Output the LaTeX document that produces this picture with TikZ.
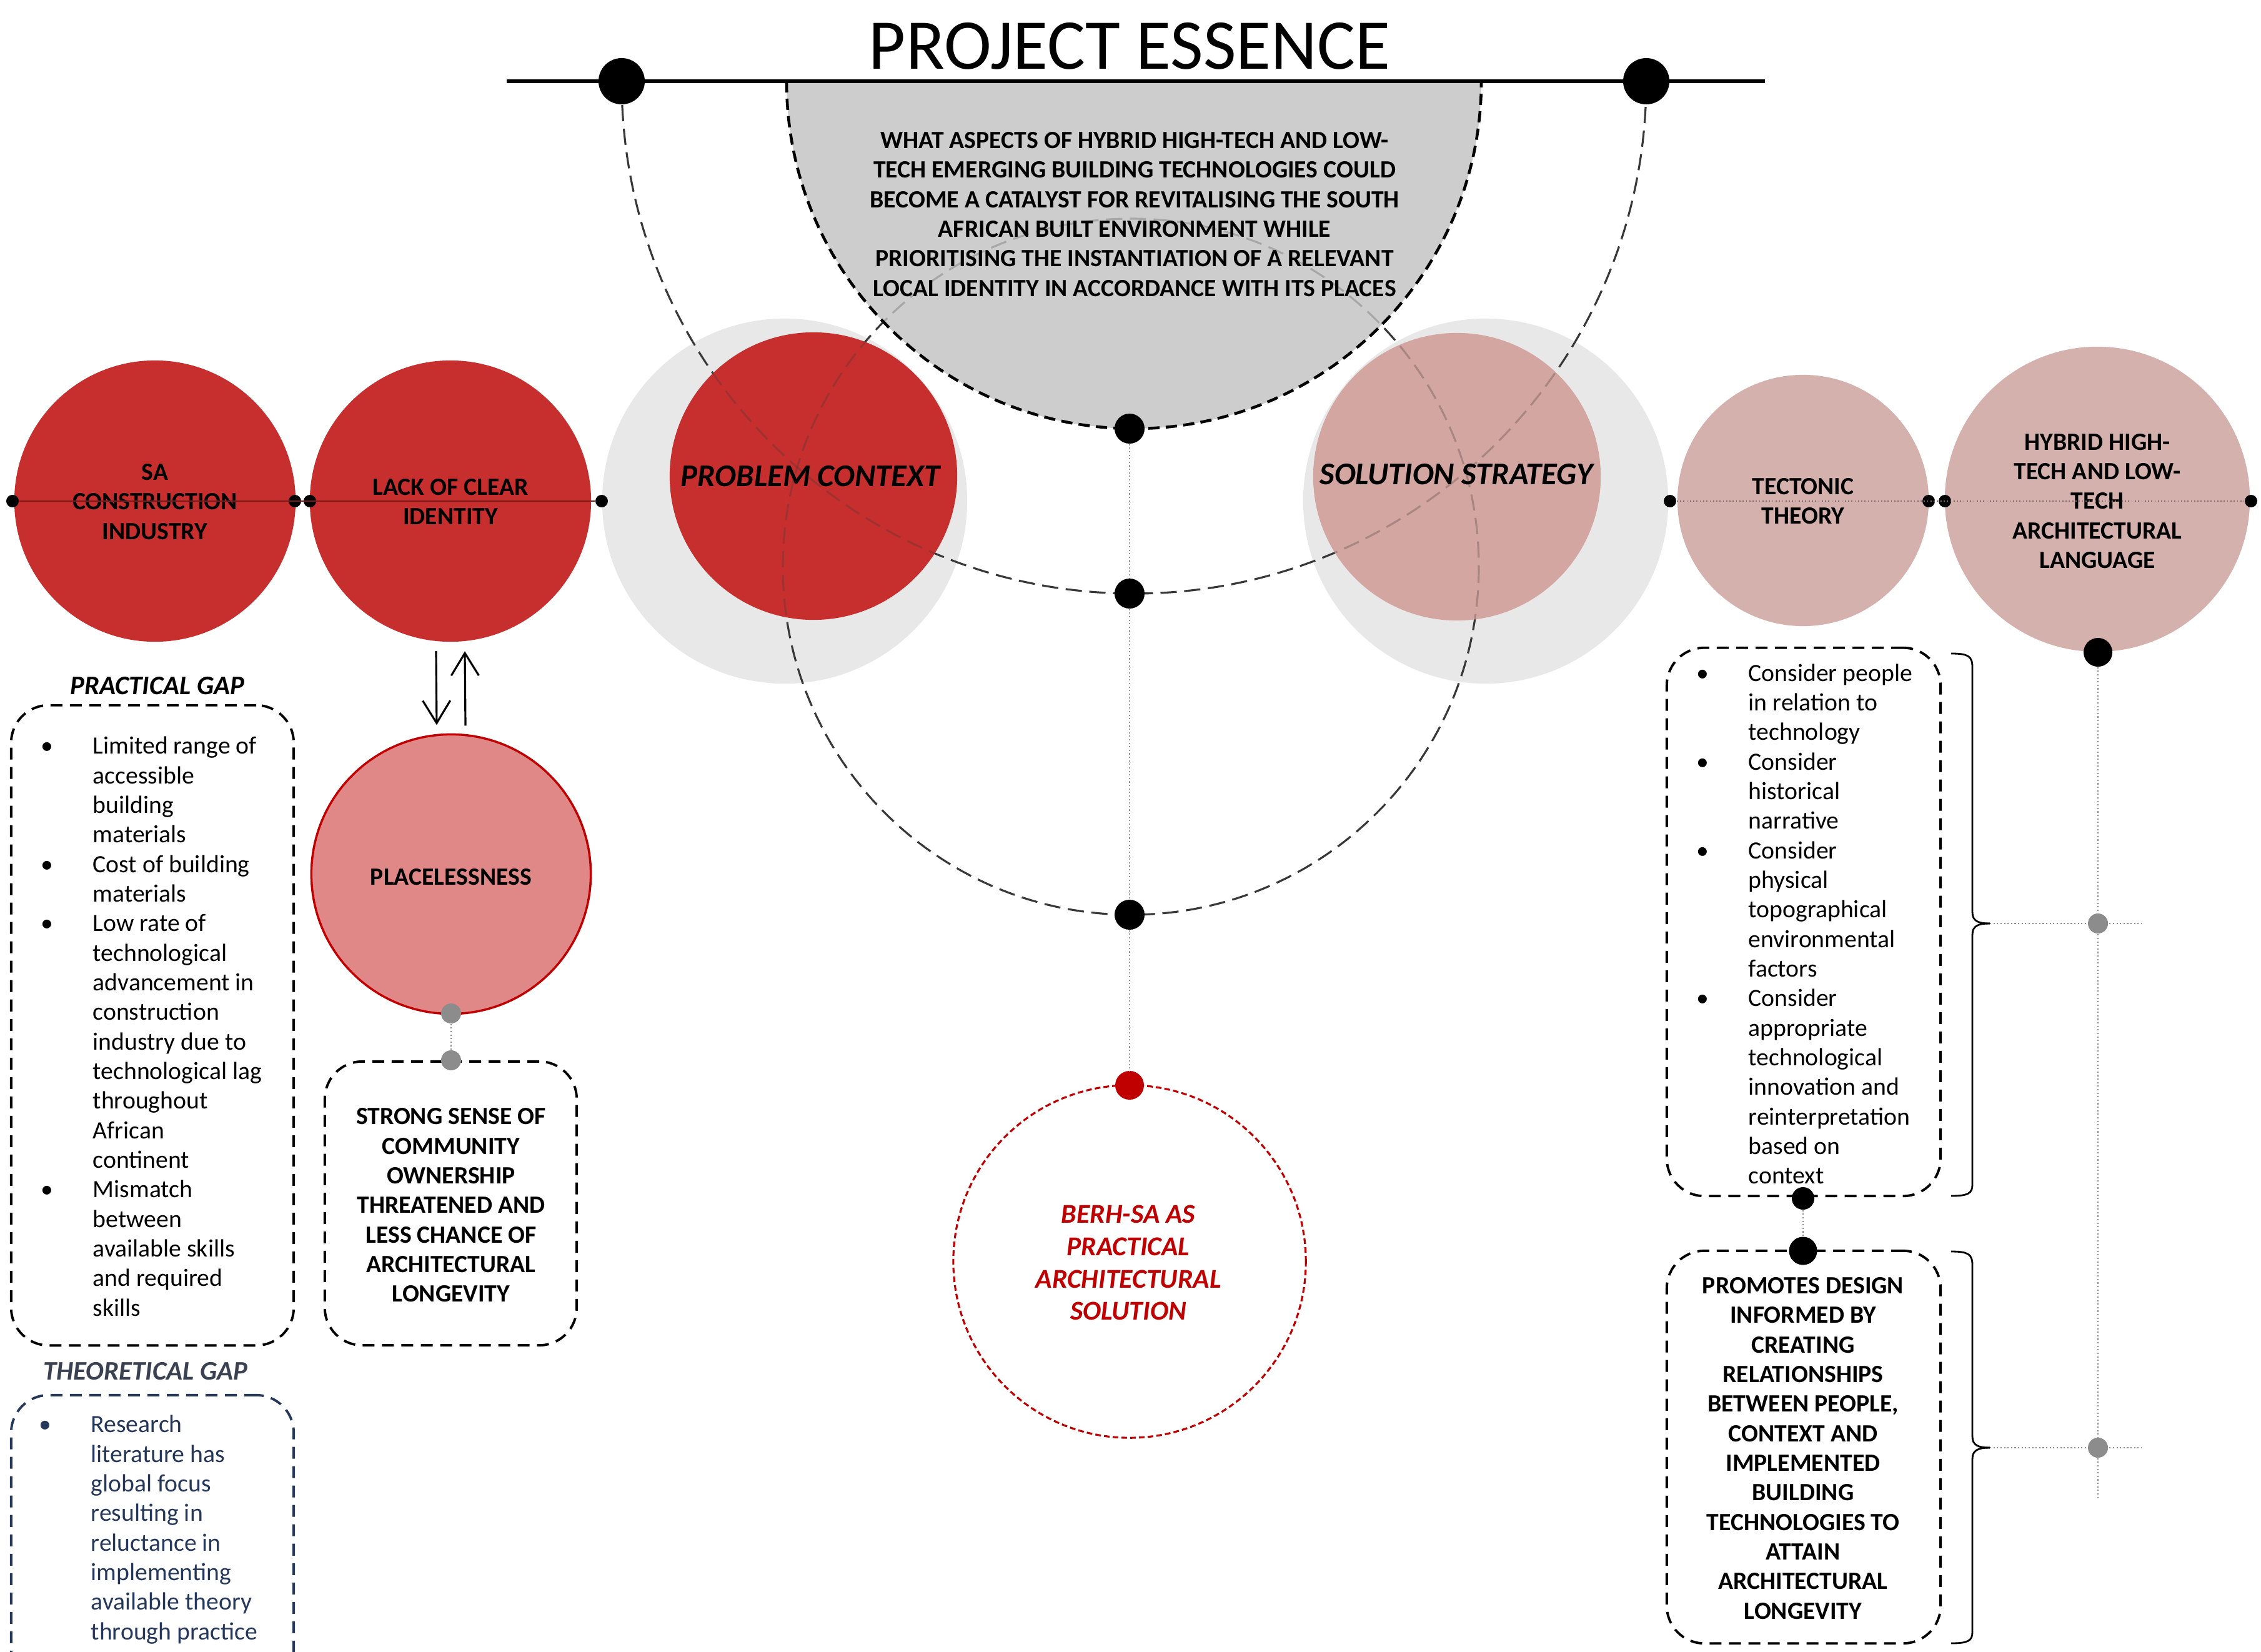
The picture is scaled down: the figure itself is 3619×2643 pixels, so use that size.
\documentclass[tikz,border=0pt]{standalone}
\usepackage{fontspec}
\setmainfont{Carlito}
\usetikzlibrary{arrows.meta}

\definecolor{redA}{RGB}{199,47,47}
\definecolor{redB}{RGB}{192,0,0}
\definecolor{pinkS}{RGB}{212,166,161}
\definecolor{pinkT}{RGB}{213,177,173}
\definecolor{placeFill}{RGB}{224,136,136}
\definecolor{haloGray}{RGB}{232,232,232}
\definecolor{semiGray}{RGB}{205,205,205}
\definecolor{navy}{RGB}{38,56,90}
\definecolor{navyHead}{RGB}{58,66,82}

% one-column tables keep the line pitch exact
\newcommand\ctab[1]{\begin{tabular}{@{}c@{}}#1\end{tabular}}
\newcommand\ltab[1]{\begin{tabular}{@{}l@{}}#1\end{tabular}}
\newcommand\itm{\makebox[23.6pt][l]{\textbullet}}
\newcommand\cnt{\hspace*{23.6pt}}

\begin{document}
\begin{tikzpicture}[x=0.01cm,y=-0.01cm,
  disc/.style={circle,inner sep=0pt,outer sep=0pt},
  lbl/.style={inner sep=0pt,yshift=-0.045cm,text opacity=1,font=\bfseries\fontsize{11.3}{13.46}\selectfont},
  body/.style={inner sep=0pt,yshift=-0.04cm,font=\fontsize{11.3}{13.46}\selectfont},
  head/.style={inner sep=0pt,font=\bfseries\itshape\fontsize{12.2}{14.6}\selectfont},
  bigit/.style={inner sep=0pt,font=\bfseries\itshape\fontsize{14.4}{17}\selectfont},
  blackdot/.style={circle,fill=black,inner sep=0pt,minimum size=#1},
  blackdot/.default=0.2cm,
  graydot/.style={circle,fill=black!45,inner sep=0pt,minimum size=0.32cm},
  arcdash/.style={draw=black!78,line width=0.9pt,dash pattern=on 0.26cm off 0.12cm},
  gapbox/.style={draw,line width=1.1pt,dash pattern=on 0.19cm off 0.12cm,rounded corners=0.6cm,inner sep=0pt},
  axisline/.style={draw=black!40,line width=0.6pt,densely dotted},
  tieline/.style={draw=black!45,line width=0.6pt,densely dotted},
  arr/.style={draw=black,line width=0.9pt,-{Straight Barb[length=0.36cm,width=0.44cm,line width=0.9pt]}},
  bracestroke/.style={draw=black,line width=0.8pt}
]
\useasboundingbox (0,0) rectangle (3619,2643);
\clip (0,0) rectangle (3619,2643);

% halos behind the two central circles
\node[disc,fill=haloGray,minimum size=5.84cm] (pchalo) at (1256,802) {};
\node[disc,fill=haloGray,minimum size=5.84cm] (sshalo) at (2378,802) {};

% the two guide arcs
\draw[arcdash] (995,130) arc[start angle=180,end angle=0,radius=820];
\draw[arcdash] (1810,907) circle (557);

% question half disc
\fill[semiGray] (1259,130) arc[start angle=180,end angle=0,radius=556] -- cycle;
\begin{scope}
  \clip (1259,130) arc[start angle=180,end angle=0,radius=556] -- cycle;
  \draw[arcdash,draw opacity=0.25] (1810,907) circle (557);
\end{scope}
\draw[line width=1.3pt,dash pattern=on 0.18cm off 0.1cm] (1259,130) arc[start angle=180,end angle=0,radius=556];

% title bar
\coordinate (barL) at (811,130);
\coordinate (barR) at (2825,130);
\draw[line width=1.8pt] (barL) -- (barR);
\node[inner sep=0pt,font=\fontsize{32.5}{38}\selectfont] (title) at (1808,74) {PROJECT ESSENCE};
\node[blackdot=0.74cm] (ql) at (995,130) {};
\node[blackdot=0.74cm] (qr) at (2635,130) {};

\node[lbl] (qtxt) at (1816,342) {\ctab{WHAT ASPECTS OF HYBRID HIGH-TECH AND LOW-\\TECH EMERGING BUILDING TECHNOLOGIES COULD\\BECOME A CATALYST FOR REVITALISING THE SOUTH\\AFRICAN BUILT ENVIRONMENT WHILE\\PRIORITISING THE INSTANTIATION OF A RELEVANT\\LOCAL IDENTITY IN ACCORDANCE WITH ITS PLACES}};

% row of circles
\node[disc,fill=redA,minimum size=4.5cm] (sa) at (248,802) {};
\node[disc,fill=redA,minimum size=4.5cm] (lack) at (721,802) {};
\node[disc,fill=redA,minimum size=4.6cm] (pc) at (1302,762) {};
\node[disc,fill=pinkS,minimum size=4.6cm] (ss) at (2332,763) {};
\node[disc,fill=pinkT,minimum size=4.02cm] (tt) at (2886,801) {};
\node[disc,fill=pinkT,minimum size=4.88cm] (hy) at (3357,799) {};

% guide arcs seen faintly through the central circles
\begin{scope}
  \clip (1302,762) circle (230) (2332,763) circle (230);
  \draw[arcdash,draw opacity=0.28] (995,130) arc[start angle=180,end angle=0,radius=820];
  \draw[arcdash,draw opacity=0.28] (1810,907) circle (557);
\end{scope}

\node[lbl] (satxt) at (sa.center) {\ctab{SA\\CONSTRUCTION\\INDUSTRY}};
\node[lbl] (lacktxt) at (lack.center) {\ctab{LACK OF CLEAR\\IDENTITY}};
\node[bigit] (pctxt) at (1297,762) {PROBLEM CONTEXT};
\node[bigit] (sstxt) at (2331,759) {SOLUTION STRATEGY};
\node[lbl] (tttxt) at (tt.center) {\ctab{TECTONIC\\THEORY}};
\node[lbl] (hytxt) at (3357,801) {\ctab{HYBRID HIGH-\\TECH AND LOW-\\TECH\\ARCHITECTURAL\\LANGUAGE}};

% threads through the circle rows
\node[blackdot] (d1) at (20,802) {};
\node[blackdot] (d2) at (472,802) {};
\node[blackdot] (d3) at (496,802) {};
\node[blackdot] (d4) at (963,802) {};
\draw[draw=redA!60!black,line width=0.5pt] (d1) -- (d4);
\node[blackdot] (e1) at (2673,802) {};
\node[blackdot] (e2) at (3087,802) {};
\node[blackdot] (e3) at (3113,802) {};
\node[blackdot] (e4) at (3603,802) {};
\draw[draw=pinkT!60!black,line width=0.5pt,densely dotted] (e1) -- (e4);

% central axis
\node[blackdot=0.48cm] (m1) at (1808,686) {};
\node[blackdot=0.48cm] (m2) at (1808,950) {};
\node[blackdot=0.48cm] (m3) at (1808,1464) {};
\node[disc,fill=redB,minimum size=0.46cm] (m4) at (1808,1737) {};
\draw[axisline] (m1) -- (m2);
\draw[axisline] (m2) -- (m3);
\draw[axisline] (m3) -- (m4);

\node[disc,draw=redB,line width=0.9pt,dash pattern=on 0.09cm off 0.05cm,minimum size=5.64cm] (berh) at (1808,2019) {};
\node[inner sep=0pt,text=redB,font=\bfseries\itshape\fontsize{12.4}{14.7}\selectfont] (berhtxt) at (1806,2025) {\ctab{BERH-SA AS\\PRACTICAL\\ARCHITECTURAL\\SOLUTION}};

% left column
\node[head] (pghead) at (252,1098) {PRACTICAL GAP};
\node[gapbox,minimum width=4.52cm,minimum height=10.24cm] (pgbox) at (244,1641) {};
\node[body,anchor=west] (pgtxt) at (65,1643) {\ltab{\itm Limited range of\\\cnt accessible\\\cnt building\\\cnt materials\\\itm Cost of building\\\cnt materials\\\itm Low rate of\\\cnt technological\\\cnt advancement in\\\cnt construction\\\cnt industry due to\\\cnt technological lag\\\cnt throughout\\\cnt African\\\cnt continent\\\itm Mismatch\\\cnt between\\\cnt available skills\\\cnt and required\\\cnt skills}};

\node[head,text=navyHead] (tghead) at (233,2195) {THEORETICAL GAP};
\node[gapbox,draw=navy,minimum width=4.52cm,minimum height=5.2cm] (tgbox) at (244,2493) {};
\node[body,anchor=west,text=navy] (tgtxt) at (62,2445) {\ltab{\itm Research\\\cnt literature has\\\cnt global focus\\\cnt resulting in\\\cnt reluctance in\\\cnt implementing\\\cnt available theory\\\cnt through practice}};

\node[disc,fill=placeFill,draw=redB,line width=1pt,minimum size=4.47cm] (place) at (722,1399) {};
\node[lbl] (placetxt) at (place.center) {PLACELESSNESS};
\draw[arr] ([xshift=-0.23cm,yshift=-0.15cm]lack.south) -- ([xshift=-0.23cm,yshift=0.15cm]place.north);
\draw[arr] ([xshift=0.23cm,yshift=0.14cm]place.north) -- ([xshift=0.23cm,yshift=-0.15cm]lack.south);

\node[gapbox,minimum width=4.03cm,minimum height=4.54cm] (strong) at (721.5,1926) {};
\node[lbl] (strongtxt) at (722,1928) {\ctab{STRONG SENSE OF\\COMMUNITY\\OWNERSHIP\\THREATENED AND\\LESS CHANCE OF\\ARCHITECTURAL\\LONGEVITY}};
\node[graydot] (gp1) at (722,1622) {};
\node[graydot] (gp2) at (722,1697) {};
\draw[tieline] (gp1) -- (gp2);

% right column
\node[gapbox,minimum width=4.38cm,minimum height=8.77cm] (tbox) at (2887,1475.5) {};
\node[body,anchor=west] (ttxt) at (2715,1479) {\ltab{\itm Consider people\\\cnt in relation to\\\cnt technology\\\itm Consider\\\cnt historical\\\cnt narrative\\\itm Consider\\\cnt physical\\\cnt topographical\\\cnt environmental\\\cnt factors\\\itm Consider\\\cnt appropriate\\\cnt technological\\\cnt innovation and\\\cnt reinterpretation\\\cnt based on\\\cnt context}};

\node[gapbox,minimum width=4.38cm,minimum height=6.28cm] (pbox) at (2887,2316) {};
\node[lbl] (ptxt) at (2886,2317) {\ctab{PROMOTES DESIGN\\INFORMED BY\\CREATING\\RELATIONSHIPS\\BETWEEN PEOPLE,\\CONTEXT AND\\IMPLEMENTED\\BUILDING\\TECHNOLOGIES TO\\ATTAIN\\ARCHITECTURAL\\LONGEVITY}};

\node[blackdot=0.36cm] (tb) at (2886,1918) {};
\node[blackdot=0.45cm] (pt) at (2886,2002) {};
\draw[tieline] (tb) -- (pt);

% braces gathering the two boxes
\draw[bracestroke] (3123,1046) .. controls (3150,1046) and (3157,1050) .. (3157,1068) -- (3157,1460)
  .. controls (3157,1474) and (3166,1478) .. (3185,1478);
\draw[bracestroke] (3185,1478) .. controls (3166,1478) and (3157,1482) .. (3157,1496) -- (3157,1896)
  .. controls (3157,1910) and (3150,1914) .. (3123,1914);
\draw[bracestroke] (3123,2003) .. controls (3150,2003) and (3157,2007) .. (3157,2025) -- (3157,2299)
  .. controls (3157,2313) and (3166,2317) .. (3185,2317);
\draw[bracestroke] (3185,2317) .. controls (3166,2317) and (3157,2321) .. (3157,2335) -- (3157,2612)
  .. controls (3157,2626) and (3150,2630) .. (3123,2630);

\coordinate (bt1) at (3185,1478);
\coordinate (bx1) at (3428,1478);
\coordinate (bt2) at (3185,2317);
\coordinate (bx2) at (3428,2317);
\coordinate (vend) at (3358,2396);
\draw[tieline] (bt1) -- (bx1);
\draw[tieline] (bt2) -- (bx2);

\node[blackdot=0.46cm] (hb) at (3358,1044) {};
\draw[tieline] (hb) -- (vend);
\node[graydot] (g1) at (3358,1478) {};
\node[graydot] (g2) at (3358,2317) {};

\end{tikzpicture}
\end{document}
